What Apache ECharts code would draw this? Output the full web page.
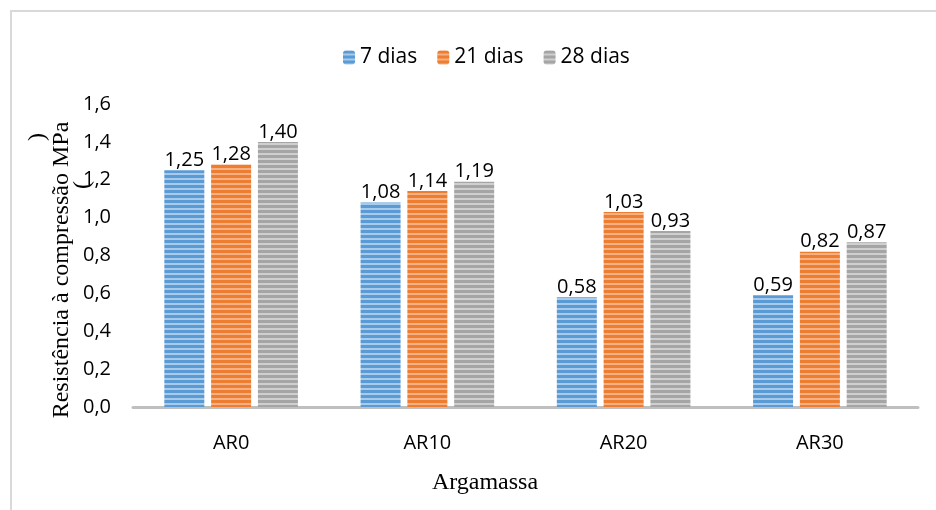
<!DOCTYPE html>
<html>
<head>
<meta charset="utf-8">
<script src="https://cdn.jsdelivr.net/npm/echarts@6/dist/echarts.min.js"></script>
<style>
html,body{margin:0;padding:0;background:#fff;}
#c{width:936px;height:510px;}
</style>
</head>
<body>
<div id="c"></div>
<script>
const categories = ['AR0', 'AR10', 'AR20', 'AR30'];
const seriesNames = ['7 dias', '21 dias', '28 dias'];
const dias7 = [1.25, 1.08, 0.58, 0.59];
const dias21 = [1.28, 1.14, 1.03, 0.82];
const dias28 = [1.40, 1.19, 0.93, 0.87];
const yTicks = [0, 0.2, 0.4, 0.6, 0.8, 1.0, 1.2, 1.4, 1.6];

function stripe(base, light) {
  const c = document.createElement('canvas');
  c.width = 8; c.height = 5;
  const g = c.getContext('2d');
  g.fillStyle = base; g.fillRect(0, 0, 8, 5);
  g.fillStyle = light; g.fillRect(0, 3, 8, 2);
  return { image: c, repeat: 'repeat' };
}
const fills = [
  stripe('#5B9BD5', '#A9CBEB'),
  stripe('#ED7D31', '#F5B184'),
  stripe('#A5A5A5', '#CFCFCF')
];
const values = [dias7, dias21, dias28];
const sans = '"Open Sans", "Noto Sans", sans-serif';
const serif = '"Liberation Serif", "DejaVu Serif", serif';

const chart = echarts.init(document.getElementById('c'));
chart.setOption({
  animation: false,
  backgroundColor: '#fff',
  legend: {
    top: 42, left: 338,
    itemWidth: 12, itemHeight: 14, itemGap: 20,
    textStyle: { fontFamily: sans, fontSize: 21, color: '#000' },
    data: seriesNames
  },
  grid: { left: 133, right: 18, top: 104, bottom: 103 },
  xAxis: {
    type: 'category',
    data: categories,
    axisLine: { lineStyle: { color: '#BFBFBF', width: 3 } },
    axisTick: { show: false },
    axisLabel: { margin: 26, fontFamily: sans, fontSize: 20, color: '#000' }
  },
  yAxis: {
    type: 'value',
    min: yTicks[0], max: yTicks[yTicks.length - 1], interval: 0.2,
    axisLine: { show: false },
    axisTick: { show: false },
    splitLine: { show: false },
    axisLabel: {
      margin: 22, fontFamily: sans, fontSize: 20, color: '#000',
      formatter: v => v.toFixed(1).replace('.', ',')
    }
  },
  series: seriesNames.map((n, i) => ({
    name: n,
    type: 'bar',
    data: values[i],
    barWidth: 40,
    barGap: '17%',
    itemStyle: { color: fills[i] },
    label: {
      show: true, position: 'top', distance: 0,
      fontFamily: sans, fontSize: 20, color: '#000',
      formatter: p => p.value.toFixed(2).replace('.', ',')
    }
  })),
  graphic: [
    { type: 'rect', shape: { x: 11, y: 11, width: 940, height: 520 },
      style: { fill: 'none', stroke: '#D9D9D9', lineWidth: 2 }, silent: true },
    { type: 'text', x: 62, y: 270, rotation: Math.PI / 2,
      style: { text: 'Resistência à compressão MPa', font: '24px ' + serif, fill: '#000',
               align: 'center', verticalAlign: 'middle' } },
    { type: 'text', x: 38, y: 137, rotation: Math.PI / 2,
      style: { text: ')', font: '24px ' + serif, fill: '#000',
               align: 'center', verticalAlign: 'middle' } },
    { type: 'text', x: 83, y: 185, rotation: Math.PI / 2,
      style: { text: '(', font: '24px ' + serif, fill: '#000',
               align: 'center', verticalAlign: 'middle' } },
    { type: 'text', x: 485, y: 483,
      style: { text: 'Argamassa', font: '24px ' + serif, fill: '#000',
               align: 'center', verticalAlign: 'middle' } }
  ]
});
</script>
</body>
</html>
